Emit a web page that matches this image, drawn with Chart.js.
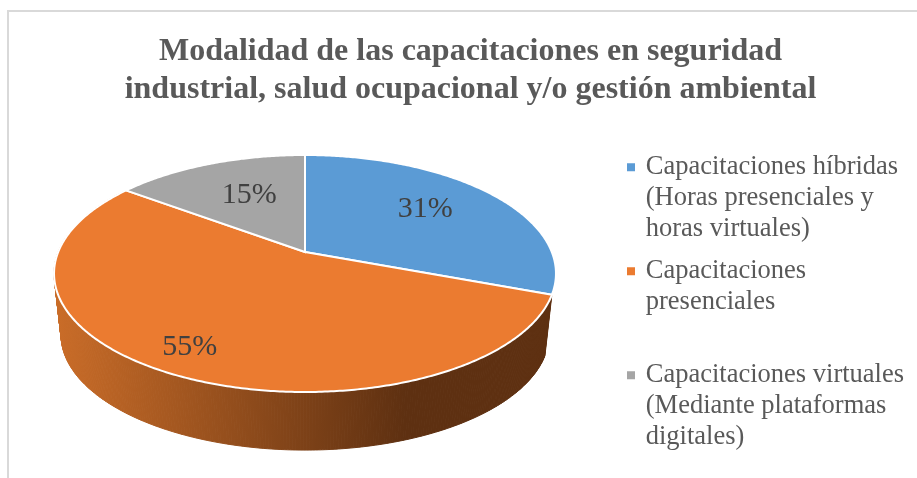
<!DOCTYPE html>
<html>
<head>
<meta charset="utf-8">
<script src="https://cdn.jsdelivr.net/npm/chart.js@4"></script>
<style>
    html, body { margin: 0; padding: 0; background: #fff; overflow: hidden; }
    #frame { position: absolute; left: 7px; top: 10px; width: 910px; height: 468px;
             border-left: 2px solid #D9D9D9; border-top: 2px solid #D9D9D9; box-sizing: border-box; }
    #chart { position: absolute; left: 0; top: 0; }
</style>
</head>
<body>
<div id="frame"></div>
<canvas id="chart" width="917" height="478"></canvas>
<script>
const titleLines = [
    'Modalidad de las capacitaciones en seguridad',
    'industrial, salud ocupacional y/o gestión ambiental'
];
// blank third line keeps every legend entry the same height, as in the original
const categories = [
    ['Capacitaciones híbridas', '(Horas presenciales y', 'horas virtuales)'],
    ['Capacitaciones', 'presenciales', ''],
    ['Capacitaciones virtuales', '(Mediante plataformas', 'digitales)']
];
const values = [31, 55, 15];
const sliceColors = ['#5B9BD5', '#EB7B30', '#A5A5A5'];

// tilted pie: a circle seen in perspective, plus a lower rim for the side wall
const view = {
    cx: 305, apexY: 252, halfW: 246.8, halfH: 114.6, tilt: 0.1814,
    baseY: 314, baseScale: 0.972,
    labelRadius: [0.7, 0.82, 0.61],
    labelShiftX: [-12, -4, 6]
};

function project(theta, radius, base) {
    const u = Math.sin(theta) * radius;
    const v = -Math.cos(theta) * radius;
    const s = base ? view.baseScale : 1;
    const w = 1 - view.tilt * v;
    return {
        x: view.cx + s * view.halfW * u / w,
        y: (base ? view.baseY : view.apexY) + s * view.halfH * v / w
    };
}

function sampleAngles(start, end) {
    const steps = Math.max(2, Math.ceil((end - start) / 0.01));
    const list = [];
    for (let i = 0; i <= steps; i++) list.push(start + (end - start) * i / steps);
    return list;
}

const tiltedPie = {
    id: 'tiltedPie',
    afterLayout(chart) {
        // legend sits lower and further left than the 'right' position puts it
        chart.legend.left = 618.5;
        chart.legend.top = 143;
    },
    beforeDatasetDraw(chart, args) {
        const ctx = chart.ctx;
        const arcs = args.meta.data;

        const wall = ctx.createLinearGradient(58, 0, 405, 0);
        wall.addColorStop(0, '#C96C28');
        wall.addColorStop(1, '#5E3011');

        ctx.save();
        arcs.forEach((arc) => {
            const start = arc.startAngle + Math.PI / 2;
            const end = arc.endAngle + Math.PI / 2;
            if (Math.cos((start + end) / 2) >= 0) return; // only front slices show a wall
            const angles = sampleAngles(start, end);
            ctx.fillStyle = wall;
            ctx.strokeStyle = wall;
            ctx.lineWidth = 1;
            for (let i = 1; i < angles.length; i++) {
                const a = project(angles[i - 1], 1, false);
                const b = project(angles[i], 1, false);
                const c = project(angles[i], 1, true);
                const d = project(angles[i - 1], 1, true);
                ctx.beginPath();
                ctx.moveTo(a.x, a.y);
                ctx.lineTo(b.x, b.y);
                ctx.lineTo(c.x, c.y);
                ctx.lineTo(d.x, d.y);
                ctx.closePath();
                ctx.fill();
                ctx.stroke();
            }
        });

        arcs.forEach((arc, i) => {
            const start = arc.startAngle + Math.PI / 2;
            const end = arc.endAngle + Math.PI / 2;
            ctx.beginPath();
            ctx.moveTo(view.cx, view.apexY);
            sampleAngles(start, end).forEach((t) => {
                const p = project(t, 1, false);
                ctx.lineTo(p.x, p.y);
            });
            ctx.closePath();
            ctx.fillStyle = sliceColors[i];
            ctx.fill();
            ctx.strokeStyle = '#FFFFFF';
            ctx.lineWidth = 2;
            ctx.stroke();
        });

        ctx.font = '30px "Liberation Serif"';
        ctx.fillStyle = '#404040';
        ctx.textAlign = 'center';
        ctx.textBaseline = 'middle';
        arcs.forEach((arc, i) => {
            const mid = (arc.startAngle + arc.endAngle) / 2 + Math.PI / 2;
            const p = project(mid, view.labelRadius[i], false);
            ctx.fillText(values[i] + '%', p.x + view.labelShiftX[i], p.y);
        });
        ctx.restore();
        return false;
    }
};

new Chart(document.getElementById('chart'), {
    type: 'pie',
    data: {
        labels: categories,
        // borderWidth only fattens the small legend squares, slices are drawn by tiltedPie
        datasets: [{ data: values, backgroundColor: sliceColors, borderColor: sliceColors, borderWidth: 5 }]
    },
    plugins: [tiltedPie],
    options: {
        responsive: false,
        animation: false,
        layout: { padding: { left: 24, top: 24, right: 0, bottom: 0 } },
        plugins: {
            tooltip: { enabled: false },
            title: {
                display: true,
                text: titleLines,
                color: '#595959',
                font: { family: '"Liberation Serif"', size: 32, weight: 'bold', lineHeight: 1.19 },
                padding: { top: 9, bottom: 30 }
            },
            legend: {
                position: 'right',
                align: 'start',
                labels: {
                    color: '#595959',
                    font: { family: '"Liberation Serif"', size: 26.5, lineHeight: 1.17 },
                    boxWidth: 3,
                    boxHeight: 3,
                    padding: 11
                }
            }
        }
    }
});
</script>
</body>
</html>
